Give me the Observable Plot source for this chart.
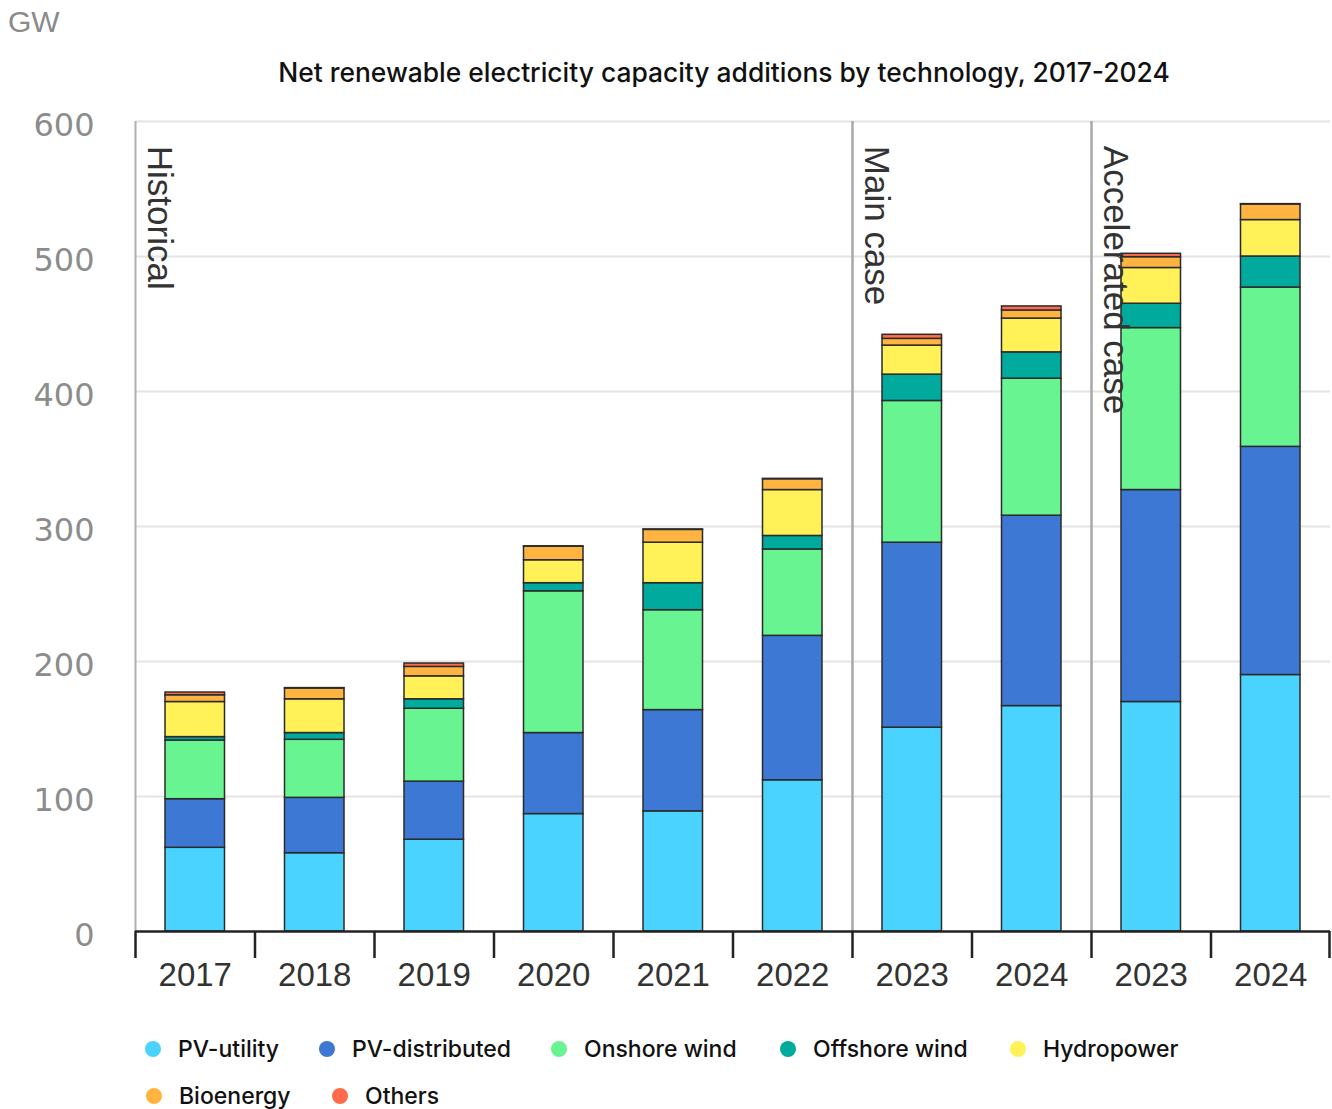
<!DOCTYPE html>
<html>
<head>
<meta charset="utf-8">
<script src="https://cdn.jsdelivr.net/npm/d3@7"></script>
<script src="https://cdn.jsdelivr.net/npm/@observablehq/plot@0.6"></script>
<style>
  html, body { margin: 0; padding: 0; background: #fff; }
  #wrap { position: relative; width: 1332px; height: 1109px; overflow: hidden; background: #fff; }
  #chart { position: absolute; left: 0; top: 0; z-index: 0; }
  .unit { position: absolute; z-index: 2; left: 8px; top: 5px; font: 30px "Liberation Sans", Arial, sans-serif; color: #8a8a8a; }
  .title { position: absolute; z-index: 2; left: 0; width: 1448px; text-align: center; top: 56px; font: 500 26.4px Inter, "Noto Sans", sans-serif; color: #111; white-space: nowrap; }
  .item { position: absolute; z-index: 2; height: 30px; display: flex; align-items: center; font: 500 23px Inter, "Noto Sans", sans-serif; color: #111; white-space: nowrap; }
  .dot { width: 16px; height: 16px; border-radius: 50%; margin-right: 17px; }
</style>
</head>
<body>
<div id="wrap">
  <div id="chart"></div>
  <div class="unit">GW</div>
  <div class="title">Net renewable electricity capacity additions by technology, 2017-2024</div>
  <div id="legend"></div>
</div>
<script>
// ---- data ----
const categories = ["2017","2018","2019","2020","2021","2022","2023 main","2024 main","2023 accel","2024 accel"];
const tickLabels = ["2017","2018","2019","2020","2021","2022","2023","2024","2023","2024"];
const technologies = ["PV-utility","PV-distributed","Onshore wind","Offshore wind","Hydropower","Bioenergy","Others"];
const colors = ["#4ad3ff","#3d78d4","#68f490","#00ab9e","#fff157","#ffb340","#ff6c4a"];

const pvUtility     = [62, 58, 68, 87, 89, 112, 151, 167, 170, 190];
const pvDistributed = [36, 41, 43, 60, 75, 107, 137, 141, 157, 169];
const onshoreWind   = [43.5, 43, 54, 105, 74, 64, 105, 101.5, 120, 118];
const offshoreWind  = [2.5, 5, 7, 6, 20, 10, 19.5, 19.5, 18, 23];
const hydropower    = [26, 25, 17, 17, 30, 34, 21.5, 25, 26.5, 27];
const bioenergy     = [5, 8, 7, 10, 9.5, 8, 5, 6, 8, 11.5];
const others        = [2, 0.3, 2.5, 0.3, 0.3, 0.3, 3, 3, 2.5, 0.3];

const yTicks = [0, 100, 200, 300, 400, 500, 600];
const caseLabels = ["Historical", "Main case", "Accelerated case"];
const caseStarts = ["2017", "2023 main", "2023 accel"];
const caseDividers = ["2023 main", "2023 accel"];

// ---- build table ----
const series = [pvUtility, pvDistributed, onshoreWind, offshoreWind, hydropower, bioenergy, others];
const rows = categories.flatMap((c, i) => technologies.map((t, j) => ({category: c, tech: t, value: series[j][i]})));
const annotations = caseLabels.map((label, i) => ({label, category: caseStarts[i]}));

const W = 1332, ML = 135, MR = 2;
const step = (W - ML - MR) / categories.length;

const chart = Plot.plot({
  width: W,
  height: 1010,
  marginLeft: ML,
  marginRight: MR,
  marginTop: 121,
  marginBottom: 79,
  x: {domain: categories, padding: 0, round: false},
  y: {domain: [0, 600]},
  color: {domain: technologies, range: colors},
  style: {fontFamily: "'Liberation Sans', Arial, sans-serif", background: "transparent", overflow: "visible"},
  marks: [
    Plot.gridY(yTicks.filter(v => v > 0), {stroke: "#e4e4e4", strokeOpacity: 1, strokeWidth: 2}),
    Plot.axisY(yTicks, {tickSize: 0, tickPadding: 41, fontSize: 32, fontFamily: "DejaVu Sans", color: "#8c8c8c", dy: 4, label: null}),
    Plot.ruleX([categories[0]], {dx: -step / 2, y1: 0, y2: 600, stroke: "#b0b0b0", strokeWidth: 2}),
    Plot.ruleX(caseDividers, {dx: -step / 2, y1: 0, y2: 600, stroke: "#a8a8a8", strokeWidth: 2.5}),
    Plot.barY(rows, {x: "category", y: "value", fill: "tech", order: technologies, insetLeft: 30, insetRight: 30, stroke: "#2b2b2b", strokeWidth: 1.5}),
    Plot.ruleY([0], {stroke: "#222", strokeWidth: 2.5}),
    Plot.ruleX(categories, {dx: -step / 2, y1: 0, y2: -20, stroke: "#222", strokeWidth: 2.5}),
    Plot.ruleX([categories[categories.length - 1]], {dx: step / 2 - 1, y1: 0, y2: -20, stroke: "#222", strokeWidth: 2.5}),
    Plot.axisX({tickSize: 0, tickPadding: 31, fontSize: 33, color: "#333", label: null,
      tickFormat: d => tickLabels[categories.indexOf(d)]}),
    Plot.text(annotations, {x: "category", y: 582, text: "label", rotate: 90, textAnchor: "start",
      dx: -36, fontSize: 35, fill: "#333"})
  ]
});
document.getElementById("chart").appendChild(chart);

// ---- legend (HTML) ----
const legendDotX = [153, 327, 559, 788, 1018, 154, 340];
const legendRowY = [1049, 1096];
const legendRow = [0, 0, 0, 0, 0, 1, 1];
const legend = document.getElementById("legend");
technologies.forEach((t, i) => {
  const item = document.createElement("div");
  item.className = "item";
  item.style.left = (legendDotX[i] - 8) + "px";
  item.style.top = (legendRowY[legendRow[i]] - 15) + "px";
  const dot = document.createElement("span");
  dot.className = "dot";
  dot.style.background = colors[i];
  const label = document.createElement("span");
  label.textContent = t;
  item.appendChild(dot);
  item.appendChild(label);
  legend.appendChild(item);
});
</script>
</body>
</html>
